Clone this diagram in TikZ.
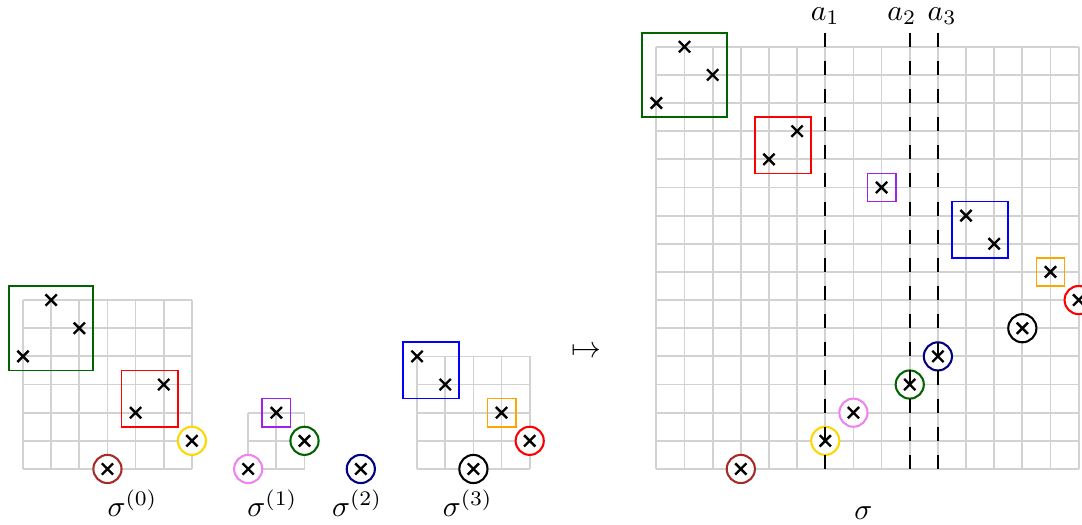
\documentclass[tikz,border=0pt]{standalone}
\usepackage{amsmath}
\usepackage{tikz}

\definecolor{darkgreen}{RGB}{0,100,0}
\definecolor{navyblue}{RGB}{0,0,128}
\definecolor{brownred}{RGB}{165,42,42}
\definecolor{gold}{RGB}{255,215,0}
\definecolor{pinkviolet}{RGB}{238,130,238}
\definecolor{boxviolet}{RGB}{160,32,240}
\definecolor{boxorange}{RGB}{255,165,0}

\tikzset{
    gridlines/.style={gray!35, line width=0.6pt, step={(1,1)}},
    blockbox/.style={line width=0.6pt},
    ring/.style={circle, draw, fill=white, line width=0.7pt, minimum size=1cm/3, inner sep=0pt},
    cutline/.style={dash pattern=on 1cm/6 off 1cm/6, line width=0.6pt},
    xmark/.style={line width=0.8pt},
}

\begin{document}
\begin{tikzpicture}[x=1cm/3, y=1cm/3]
    \useasboundingbox (-0.817,-1.989) rectangle (37.62,16.66);

    \begin{scope}
        \draw[gridlines] (0,0) grid (6,6);
        \draw[blockbox, darkgreen] (-0.5,3.5) rectangle (2.5,6.5);
        \draw[blockbox, red] (3.5,1.5) rectangle (5.5,3.5);
        \node[ring, draw=gold] (s0gold) at (6,1) {};
        \node[ring, draw=brownred] (s0brown) at (3,0) {};
        \foreach \x/\y in {0/4,1/6,2/5,3/0,4/2,5/3,6/1}
            \draw[xmark] (\x,\y) +(-0.2,-0.2) -- +(0.2,0.2) +(-0.2,0.2) -- +(0.2,-0.2);
    \end{scope}

    \begin{scope}[shift={(8,0)}]
        \draw[gridlines] (0,0) grid (2,2);
        \draw[blockbox, boxviolet] (0.5,1.5) rectangle (1.5,2.5);
        \node[ring, draw=pinkviolet] (s1pink) at (0,0) {};
        \node[ring, draw=darkgreen] (s1green) at (2,1) {};
        \foreach \x/\y in {0/0,1/2,2/1}
            \draw[xmark] (\x,\y) +(-0.2,-0.2) -- +(0.2,0.2) +(-0.2,0.2) -- +(0.2,-0.2);
    \end{scope}

    \begin{scope}[shift={(12,0)}]
        \node[ring, draw=navyblue] (s2navy) at (0,0) {};
        \draw[xmark] (0,0) +(-0.2,-0.2) -- +(0.2,0.2) +(-0.2,0.2) -- +(0.2,-0.2);
    \end{scope}

    \begin{scope}[shift={(14,0)}]
        \draw[gridlines] (0,0) grid (4,4);
        \draw[blockbox, blue] (-0.5,2.5) rectangle (1.5,4.5);
        \draw[blockbox, boxorange] (2.5,1.5) rectangle (3.5,2.5);
        \node[ring, draw=black] (s3black) at (2,0) {};
        \node[ring, draw=red] (s3red) at (4,1) {};
        \foreach \x/\y in {0/4,1/3,2/0,3/2,4/1}
            \draw[xmark] (\x,\y) +(-0.2,-0.2) -- +(0.2,0.2) +(-0.2,0.2) -- +(0.2,-0.2);
    \end{scope}

    \node (arrow) at (20,4.17) {$\mapsto$};

    \begin{scope}[shift={(22.5,0)}]
        \draw[gridlines] (0,0) grid (15,15);
        \draw[blockbox, darkgreen] (-0.5,12.5) rectangle (2.5,15.5);
        \draw[blockbox, red] (3.5,10.5) rectangle (5.5,12.5);
        \draw[blockbox, boxviolet] (7.5,9.5) rectangle (8.5,10.5);
        \draw[blockbox, blue] (10.5,7.5) rectangle (12.5,9.5);
        \draw[blockbox, boxorange] (13.5,6.5) rectangle (14.5,7.5);
        \node[ring, draw=red] (sred) at (15,6) {};
        \node[ring, draw=black] (sblack) at (13,5) {};
        \node[ring, draw=navyblue] (snavy) at (10,4) {};
        \node[ring, draw=darkgreen] (sgreen) at (9,3) {};
        \node[ring, draw=pinkviolet] (spink) at (7,2) {};
        \node[ring, draw=gold] (sgold) at (6,1) {};
        \node[ring, draw=brownred] (sbrown) at (3,0) {};
        \draw[cutline] (6,15.5) -- (6,0);
        \draw[cutline] (9,15.5) -- (9,0);
        \draw[cutline] (10,15.5) -- (10,0);
        \node[anchor=base] (a1) at (6,15.93) {$a_1$};
        \node[anchor=base] (a2) at (8.72,15.93) {$a_2$};
        \node[anchor=base] (a3) at (10.15,15.93) {$a_3$};
        \foreach \x/\y in {0/13,1/15,2/14,3/0,4/11,5/12,6/1,7/2,8/10,9/3,10/4,11/9,12/8,13/5,14/7,15/6}
            \draw[xmark] (\x,\y) +(-0.2,-0.2) -- +(0.2,0.2) +(-0.2,0.2) -- +(0.2,-0.2);
    \end{scope}

    \node[anchor=base] (sig0) at (3.89,-1.69) {$\sigma^{(0)}$};
    \node[anchor=base] (sig1) at (8.86,-1.69) {$\sigma^{(1)}$};
    \node[anchor=base] (sig2) at (11.87,-1.69) {$\sigma^{(2)}$};
    \node[anchor=base] (sig3) at (15.8,-1.69) {$\sigma^{(3)}$};
    \node[anchor=base] (sig) at (29.85,-1.81) {$\sigma$};
\end{tikzpicture}
\end{document}
